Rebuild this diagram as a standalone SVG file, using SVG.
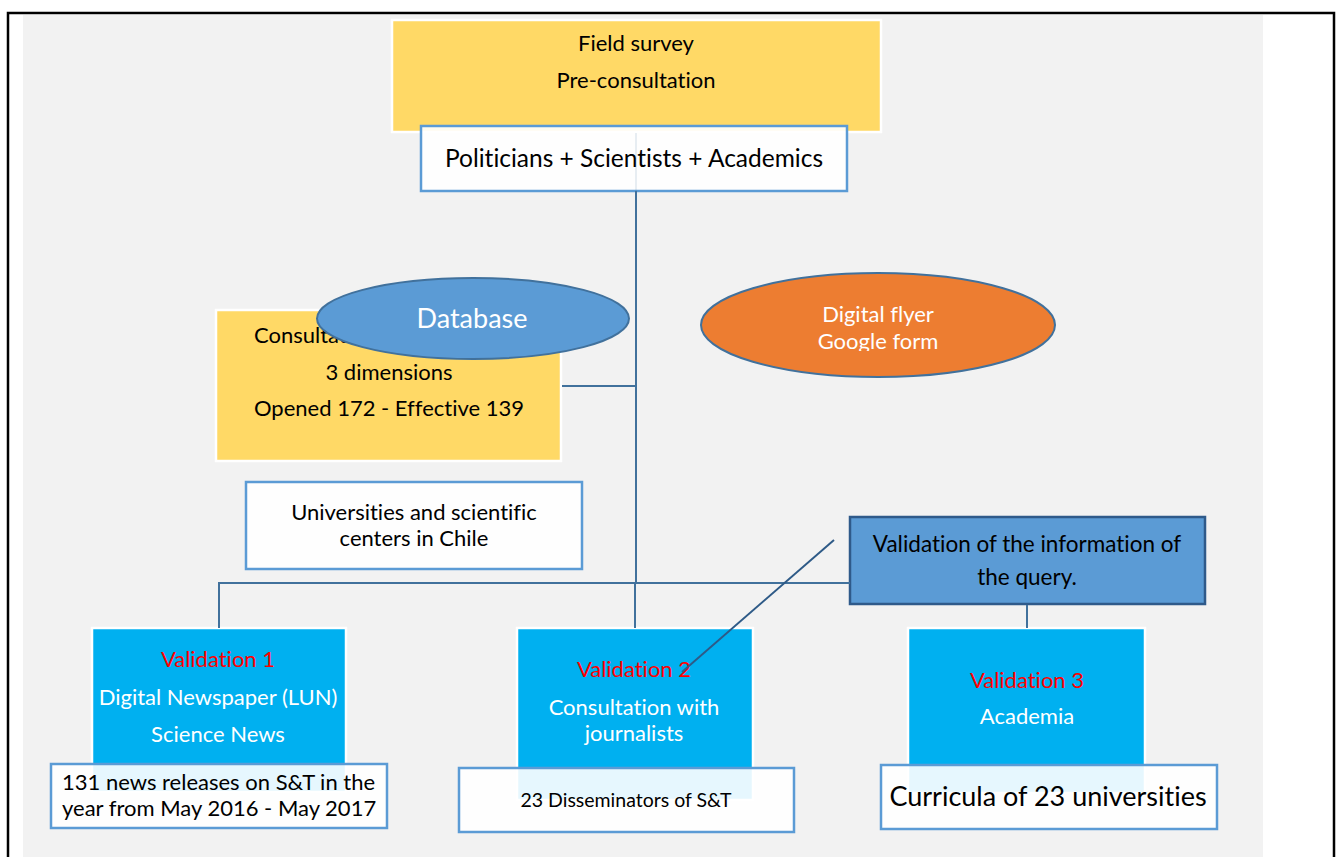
<svg xmlns="http://www.w3.org/2000/svg" width="1340" height="857" viewBox="0 0 1340 857">
<defs>
<style>
text{font-family:Lato,"Open Sans","Liberation Sans",sans-serif;text-anchor:middle;font-variant-ligatures:none;font-size:22px;}
.yel{fill:#FFD966;stroke:#FFFFFF;stroke-width:2.5;}
.wbox{fill:#FFFFFF;fill-opacity:0.9;stroke:#5B9BD5;stroke-width:2.5;}
.cyan{fill:#00B0F0;stroke:#FFFFFF;stroke-width:2.5;}
.blk{fill:#000000;}
.wht{fill:#FFFFFF;}
.red{fill:#FF0000;}
.conn{stroke:#41719C;stroke-width:2;fill:none;}
</style>
<clipPath id="flyclip"><rect x="700" y="270" width="360" height="81"/></clipPath>
</defs>
<rect x="0" y="0" width="1340" height="857" fill="#FFFFFF"/>
<rect x="23" y="15" width="1240" height="842" fill="#F2F2F2"/>
<path d="M8 870 V13 H1334 V870" fill="none" stroke="#000000" stroke-width="2.5"/>

<g id="field-survey">
<rect class="yel" x="392" y="20" width="489" height="112"/>
<text class="blk" x="636" y="51">Field survey</text>
<text class="blk" x="636" y="88">Pre-consultation</text>
</g>

<g id="consultation">
<rect class="yel" x="216" y="310" width="345" height="151"/>
<text class="blk" x="254" y="343" style="text-anchor:start">Consultation</text>
<text class="blk" x="389" y="380">3 dimensions</text>
<text class="blk" x="389" y="416">Opened 172 - Effective 139</text>
</g>

<g id="politicians">
<rect class="wbox" x="421" y="126" width="426" height="65" fill-opacity="0.95"/>
<text class="blk" x="634" y="167" style="font-size:24.5px">Politicians + Scientists + Academics</text>
</g>

<g id="database">
<ellipse cx="473" cy="318.5" rx="156" ry="40.5" fill="#5B9BD5" stroke="#41719C" stroke-width="2"/>
<text class="wht" x="472" y="328" style="font-size:27px">Database</text>
</g>

<g id="digital-flyer">
<ellipse cx="878" cy="325" rx="177" ry="52" fill="#ED7D31" stroke="#41719C" stroke-width="2"/>
<g clip-path="url(#flyclip)">
<text class="wht" x="878" y="322">Digital flyer</text>
<text class="wht" x="878" y="349">Google form</text>
</g>
</g>

<g id="universities">
<rect class="wbox" x="246" y="482" width="336" height="87"/>
<text class="blk" x="414" y="520">Universities and scientific</text>
<text class="blk" x="414" y="546">centers in Chile</text>
</g>

<g id="validation-query">
<rect x="850" y="517" width="355" height="87" fill="#5B9BD5" stroke="#2F5A8A" stroke-width="2.5"/>
<text class="blk" x="1027" y="552" style="font-size:22.5px">Validation of the information of</text>
<text class="blk" x="1027" y="585" style="font-size:22.5px">the query.</text>
</g>

<g id="validation-1">
<rect class="cyan" x="92" y="628" width="254" height="164"/>
<text class="red" x="218" y="667">Validation 1</text>
<text class="wht" x="218" y="705">Digital Newspaper (LUN)</text>
<text class="wht" x="218" y="742">Science News</text>
</g>

<g id="validation-2">
<rect class="cyan" x="517" y="628" width="236" height="172"/>
<text class="red" x="634" y="677">Validation 2</text>
<text class="wht" x="634" y="715">Consultation with</text>
<text class="wht" x="634" y="741">journalists</text>
</g>

<g id="validation-3">
<rect class="cyan" x="908" y="628" width="237" height="165"/>
<text class="red" x="1027" y="688">Validation 3</text>
<text class="wht" x="1027" y="724">Academia</text>
</g>

<g id="result-1">
<rect class="wbox" x="51" y="764" width="336" height="64"/>
<text class="blk" x="62" y="790" style="text-anchor:start">131 news releases on S&amp;T in the</text>
<text class="blk" x="62" y="816" style="text-anchor:start">year from May 2016 - May 2017</text>
</g>

<g id="result-2">
<rect class="wbox" x="459" y="768" width="335" height="64"/>
<text class="blk" x="626" y="807" style="font-size:19.5px">23 Disseminators of S&amp;T</text>
</g>

<g id="result-3">
<rect class="wbox" x="881" y="765" width="336" height="64"/>
<text class="blk" x="1048" y="806" style="font-size:27px">Curricula of 23 universities</text>
</g>

<g id="connectors">
<line class="conn" x1="636" y1="133" x2="636" y2="191" stroke-opacity="0.12"/>
<line class="conn" x1="636" y1="191" x2="636" y2="583"/>
<line class="conn" x1="562" y1="386" x2="636" y2="386"/>
<polyline class="conn" points="219,628 219,583 850,583"/>
<line class="conn" x1="635" y1="583" x2="635" y2="628"/>
<line class="conn" x1="1027" y1="605" x2="1027" y2="628"/>
<line x1="834" y1="540" x2="682" y2="672" stroke="#2E5A87" stroke-width="2"/>
</g>
</svg>
